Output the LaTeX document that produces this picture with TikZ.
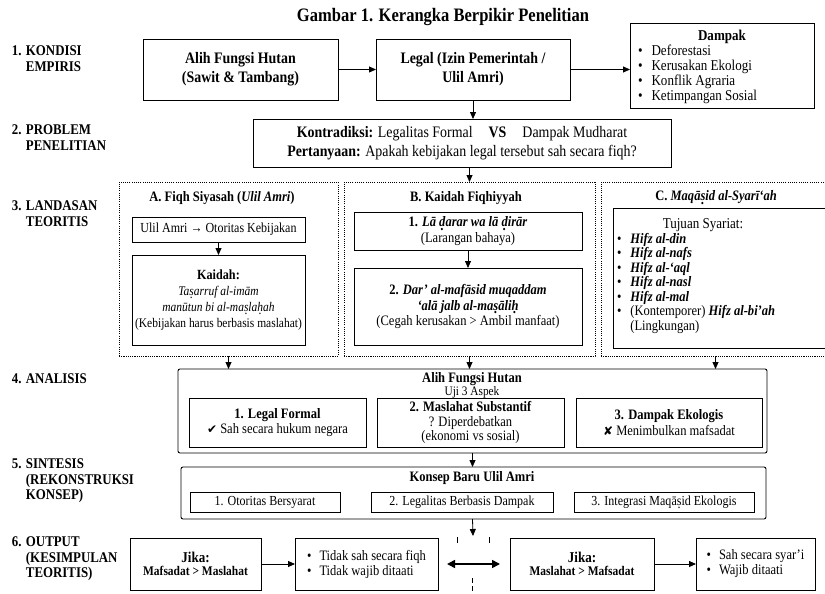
\documentclass[tikz,border=0pt]{standalone}
\usepackage{fontspec}
\setmainfont{Liberation Serif}[FakeStretch=0.87]
\newfontfamily\symf{DejaVu Sans}
\usetikzlibrary{arrows.meta}
\newcommand{\fsz}[2]{\fontsize{#1}{#2}\selectfont}
\newcommand{\dotu}[1]{\leavevmode\oalign{#1\crcr\hidewidth.\hidewidth}}
\begin{document}
\begin{tikzpicture}[x=1pt,y=-1pt,
  every node/.style={inner sep=0pt,outer sep=0pt},
  bx/.style={draw,line width=0.9pt,align=center},
  rbx/.style={bx,rounded corners=2pt},
  col/.style={draw,line width=0.9pt,dash pattern=on 1.1pt off 1.1pt},
  lab/.style={anchor=north west,align=left,font=\bfseries\fsz{14.8}{15.5}},
  arr/.style={line width=0.8pt,-{Triangle[length=7pt,width=6pt]}},
  tick/.style={line width=0.8pt}
]
\useasboundingbox (0,0) rectangle (825,594);
\fill[white] (0,0) rectangle (825,594);

% title
\node[font=\bfseries\fsz{19}{20}] (title) at (443,17) {Gambar 1. Kerangka Berpikir Penelitian};

% section labels
\node[lab] (l1) at (12,46) {1. KONDISI\\\phantom{1. }EMPIRIS};
\node[lab] (l2) at (12,125) {2. PROBLEM\\\phantom{2. }PENELITIAN};
\node[lab] (l3) at (12,201) {3. LANDASAN\\\phantom{3. }TEORITIS};
\node[lab] (l4) at (12,374) {4. ANALISIS};
\node[lab] (l5) at (12,459) {5. SINTESIS\\\phantom{5. }(REKONSTRUKSI\\\phantom{5. }KONSEP)};
\node[lab] (l6) at (12,537) {6. OUTPUT\\\phantom{6. }(KESIMPULAN\\\phantom{6. }TEORITIS)};

% 1. kondisi empiris
\node[bx,font=\bfseries\fsz{16}{19},minimum width=195,minimum height=61] (b1) at (240.5,69.5) {Alih Fungsi Hutan\\(Sawit \& Tambang)};
\node[bx,font=\bfseries\fsz{16}{19},minimum width=194,minimum height=61] (b2) at (473,69.5) {Legal (Izin Pemerintah /\\Ulil Amri)};
\node[bx,minimum width=184,minimum height=85] (dmp) at (722,65.5) {};
\node[font=\bfseries\fsz{15}{15}] (dmpt) at (722,37) {Dampak};
\node[anchor=north west,align=left,font=\fsz{15}{15}] (dmpl) at (638,45) {•\hspace{9pt}Deforestasi\\•\hspace{9pt}Kerusakan Ekologi\\•\hspace{9pt}Konflik Agraria\\•\hspace{9pt}Ketimpangan Sosial};
\draw[arr] (b1) -- (b2);
\draw[arr] (b2.east) -- (b2.east -| dmp.west);

% 2. problem
\node[bx,font=\fsz{16}{19},minimum width=418,minimum height=48] (kon) at (462,143) {\textbf{Kontradiksi:} Legalitas Formal\quad\textbf{VS}\quad Dampak Mudharat\\\textbf{Pertanyaan:} Apakah kebijakan legal tersebut sah secara fiqh?};
\draw[arr] (b2.south) -- (b2.south |- kon.north);

% 3. landasan
\node[col,minimum width=219,minimum height=174] (colA) at (228.5,269) {};
\node[col,minimum width=251,minimum height=174] (colB) at (469.5,269) {};
\node[col,minimum width=229,minimum height=174] (colC) at (715.5,269) {};
\draw[arr] (colB.north |- kon.south) -- (colB.north);

\node[font=\bfseries\fsz{14.4}{15}] (tA) at (222,198) {A. Fiqh Siyasah (\textit{Ulil Amri})};
\node[font=\bfseries\fsz{14.4}{15}] (tB) at (466,198) {B. Kaidah Fiqhiyyah};
\node[font=\bfseries\fsz{14.4}{15}] (tC) at (716,198) {C. \textit{Maqā\dotu{s}id al-Syarī‘ah}};

\node[bx,font=\fsz{13.8}{14},minimum width=173,minimum height=25] (a1) at (218.5,229.5) {Ulil Amri → Otoritas Kebijakan};
\node[bx,font=\fsz{13.2}{15.8},minimum width=173,minimum height=90] (a2) at (218.5,300) {{\bfseries\fsz{14}{15.8}Kaidah:}\\\textit{Ta\dotu{s}arruf al-imām}\\\textit{manūtun bi al-ma\dotu{s}la\dotu{h}ah}\\(Kebijakan harus berbasis maslahat)};
\draw[arr] (a1) -- (a2);

\node[bx,font=\fsz{14.4}{15.5},minimum width=228,minimum height=38] (kb1) at (468,231) {\textbf{1. \textit{Lā \dotu{d}arar wa lā \dotu{d}irār}}\\(Larangan bahaya)};
\node[bx,font=\fsz{14.4}{15.5},minimum width=228,minimum height=77] (kb2) at (468,306.5) {\textbf{2. \textit{Dar’ al-mafāsid muqaddam}}\\\textbf{\textit{‘alā jalb al-ma\dotu{s}āli\dotu{h}}}\\(Cegah kerusakan > Ambil manfaat)};
\draw[arr] (kb1) -- (kb2);

\node[bx,minimum width=227,minimum height=140] (c1) at (726.5,278) {};
\node[font=\fsz{15}{15}] (c1t) at (703,225) {Tujuan Syariat:};
\node[anchor=north west,align=left,font=\fsz{14.4}{14.5}] (c1l) at (617,233) {•\hspace{9pt}\textbf{\textit{Hifz al-din}}\\•\hspace{9pt}\textbf{\textit{Hifz al-nafs}}\\•\hspace{9pt}\textbf{\textit{Hifz al-‘aql}}\\•\hspace{9pt}\textbf{\textit{Hifz al-nasl}}\\•\hspace{9pt}\textbf{\textit{Hifz al-mal}}\\•\hspace{9pt}(Kontemporer) \textbf{\textit{Hifz al-bi’ah}}\\\phantom{•}\hspace{9pt}(Lingkungan)};

% 4. analisis
\node[rbx,minimum width=589,minimum height=84] (ana) at (472.5,411) {};
\draw[arr] (colA.south) -- (colA.south |- ana.north);
\draw[arr] (colB.south) -- (colB.south |- ana.north);
\draw[arr] (colC.south) -- (colC.south |- ana.north);
\node[font=\bfseries\fsz{14.4}{15}] (anat) at (472,379.5) {Alih Fungsi Hutan};
\node[font=\fsz{13}{13}] (anas) at (472,392.5) {Uji 3 Aspek};
\node[bx,font=\fsz{14.4}{15.5},minimum width=177,minimum height=49] (i1) at (277.5,422.5) {\textbf{1. Legal Formal}\\{\symf\fsz{12}{15.5}✔} Sah secara hukum negara};
\node[bx,font=\fsz{14.4}{14.5},minimum width=187,minimum height=49] (i2) at (470.5,422.5) {\textbf{2. Maslahat Substantif}\\? Diperdebatkan\\(ekonomi vs sosial)};
\node[bx,font=\fsz{14.4}{15.5},minimum width=186,minimum height=49] (i3) at (669,422.5) {\textbf{3. Dampak Ekologis}\\{\symf\fsz{12}{15.5}✘} Menimbulkan mafsadat};

% 5. sintesis
\node[rbx,minimum width=585,minimum height=52] (sin) at (473.5,493) {};
\draw[arr] (ana.south) -- (ana.south |- sin.north);
\node[font=\bfseries\fsz{14.4}{15}] (sint) at (472,478) {Konsep Baru Ulil Amri};
\node[bx,font=\fsz{13.8}{14},minimum width=150,minimum height=20] (s1) at (265,502) {1. Otoritas Bersyarat};
\node[bx,font=\fsz{13.8}{14},minimum width=182,minimum height=20] (s2) at (462,502) {2. Legalitas Berbasis Dampak};
\node[bx,font=\fsz{13.8}{14},minimum width=180,minimum height=20] (s3) at (664,502) {3. Integrasi Maqā\dotu{s}id Ekologis};

% 6. output
\coordinate (mid) at (473,536);
\draw[arr] (ana.south |- sin.south) -- (mid);
\coordinate (tk1) at (457,537);
\coordinate (tk2) at (489,537);
\coordinate (tk3) at (472,578);
\coordinate (tk4) at (472,594);
\draw[tick] (tk1) -- ++(0,6);
\draw[tick] (tk2) -- ++(0,6);
\draw[tick,dash pattern=on 5pt off 3pt] (tk3) -- (tk4);

\node[bx,minimum width=131,minimum height=52] (j1) at (195.5,564) {{\bfseries\fsz{15}{16}Jika:}\\[1pt]{\bfseries\fsz{13.2}{15}Mafsadat > Maslahat}};
\node[bx,align=left,font=\fsz{14.4}{15},minimum width=143,minimum height=52] (u1) at (366.5,564) {•\hspace{8pt}Tidak sah secara fiqh\\•\hspace{8pt}Tidak wajib ditaati};
\node[bx,minimum width=144,minimum height=52] (j2) at (582,564) {{\bfseries\fsz{15}{16}Jika:}\\[1pt]{\bfseries\fsz{13.2}{15}Maslahat > Mafsadat}};
\node[bx,align=left,font=\fsz{14.4}{15},minimum width=119,minimum height=52] (u2) at (755.5,564) {•\hspace{8pt}Sah secara syar’i\\•\hspace{8pt}Wajib ditaati};
\draw[arr] (j1) -- (u1);
\draw[arr] (j2) -- (u2);
\draw[line width=1.6pt,{Triangle[length=8pt,width=8pt]}-{Triangle[length=8pt,width=8pt]}] ([xshift=9pt]u1.east) -- ([xshift=-10pt]j2.west);
\end{tikzpicture}
\end{document}
